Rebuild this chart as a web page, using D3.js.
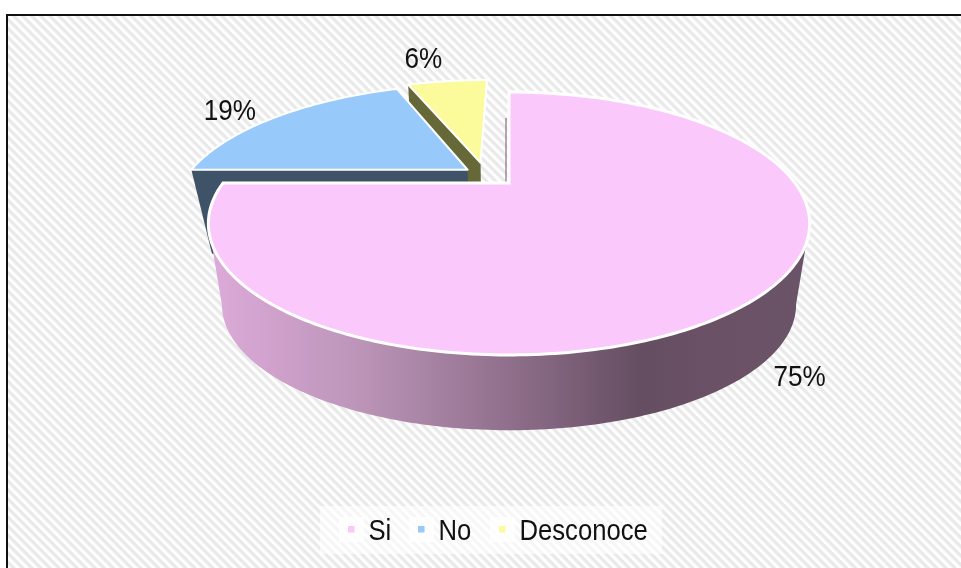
<!DOCTYPE html>
<html><head><meta charset="utf-8">
<script src="https://cdnjs.cloudflare.com/ajax/libs/d3/7.8.5/d3.min.js"></script>
<style>html,body{margin:0;padding:0;background:#fff}svg{display:block;filter:blur(0.45px)}
text{font-family:"Liberation Sans",Arial,sans-serif;fill:#111}</style></head>
<body><div id="chart"></div>
<script>
const categories = ["Si", "No", "Desconoce"];
const values = [75, 19, 6];
const topColors = ["#fbc8fb", "#97c9fb", "#fbfb9c"];
const wallColors = ["#8a6c88", "#3f5368", "#666838"];
const explodeU = [0, -0.15, -0.105];
const explodeV = [0, -0.115, -0.18];
const wallShrink = [0.955, 0.935, 0.955];
const labelOffsets = [[32, 95], [-48, 4], [-24, -13]];
const legendX = [348, 418, 499];

const W = 961, H = 568;
const svg = d3.select("#chart").append("svg").attr("width", W).attr("height", H);
const defs = svg.append("defs");
const P = 6.4;
const pat = defs.append("pattern").attr("id", "hatch").attr("width", P).attr("height", P)
  .attr("patternUnits", "userSpaceOnUse").attr("patternTransform", "rotate(45)");
pat.append("rect").attr("width", P).attr("height", P).attr("fill", "#fefefe");
pat.append("rect").attr("width", P).attr("height", P / 2).attr("fill", "#e9e9e9");
const wallGrad = defs.append("linearGradient").attr("id", "wall")
  .attr("gradientUnits", "userSpaceOnUse").attr("x1", 215).attr("x2", 805).attr("y1", 0).attr("y2", 0);
[[0, "#dcaad8"], [0.25, "#bb94b8"], [0.5, "#8f6f8b"], [0.72, "#654e62"], [0.85, "#6b5166"], [1, "#6a5368"]]
  .forEach(([o, c]) => wallGrad.append("stop").attr("offset", o).attr("stop-color", c));

svg.append("rect").attr("x", 8).attr("y", 16).attr("width", W).attr("height", H).attr("fill", "url(#hatch)");
svg.append("path").attr("d", `M7,${H}V15H${W}`).attr("fill", "none").attr("stroke", "#111").attr("stroke-width", 2);

// perspective projection of the pie plane
const cx = 509, cy = 183, B = 286, A = 119, k = -0.308, drop = 83;
const project = (u, v) => { const d = 1 + k * v; return [cx + B * u / d, cy + A * v / d]; };
const lower = (i) => ([x, y]) => [cx + (x - cx) * wallShrink[i], cy + (y - cy) * wallShrink[i] + drop];

const arcs = d3.pie().sort(null).startAngle(0).endAngle(2 * Math.PI)(values);
const slices = arcs.map((a, i) => {
  const mid = (a.startAngle + a.endAngle) / 2;
  const u0 = explodeU[i], v0 = explodeV[i];
  const n = Math.max(8, Math.round((a.endAngle - a.startAngle) * 60));
  const rim = d3.range(n + 1).map(j => {
    const t = a.startAngle + (a.endAngle - a.startAngle) * j / n;
    return project(u0 + Math.sin(t), v0 - Math.cos(t));
  });
  return { i, mid, apex: project(u0, v0), rim, u0, v0 };
});
const line = d3.line();
const topPath = s => line([s.apex].concat(s.rim)) + "Z";

// back slices first: cut face, then top
[2, 1].forEach(i => {
  const s = slices[i], low = lower(i);
  svg.append("path").attr("d", line([s.apex, s.rim[0], low(s.rim[0]), low(s.apex)]) + "Z").attr("fill", wallColors[i]);
  svg.append("path").attr("d", topPath(s)).attr("fill", topColors[i])
    .attr("stroke", "#fff").attr("stroke-width", 2).attr("stroke-linejoin", "round");
});

// large slice: thin visible cut face, outer wall of the front arc, top
const big = slices[0], lowBig = lower(0);
svg.append("path").attr("d", line([[cx - 3, cy - 65], [cx - 3, cy]])).attr("stroke", wallColors[0]).attr("stroke-width", 1.2).attr("fill", "none");
const iRight = d3.greatestIndex(big.rim, p => p[0]);
const iLeft = d3.leastIndex(big.rim, p => p[0]);
const front = big.rim.slice(iRight, iLeft + 1);
svg.append("path").attr("d", line(front.concat(front.map(lowBig).reverse())) + "Z").attr("fill", "url(#wall)");
svg.append("path").attr("d", topPath(big)).attr("fill", topColors[0])
  .attr("stroke", "#fff").attr("stroke-width", 3).attr("stroke-linejoin", "miter");

// text squeezed horizontally like the stretched original picture
const squeezed = (g, x, y, size, str, anchor) => g.append("text")
  .attr("transform", `translate(${x},${y}) scale(0.87,1)`)
  .attr("text-anchor", anchor).attr("font-size", size).text(str);

slices.forEach(s => {
  const m = project(s.u0 + Math.sin(s.mid), s.v0 - Math.cos(s.mid));
  squeezed(svg, m[0] + labelOffsets[s.i][0], m[1] + labelOffsets[s.i][1], 30, values[s.i] + "%", "middle");
});

// legend
const legend = svg.append("g");
legend.append("rect").attr("x", 320).attr("y", 506).attr("width", 342).attr("height", 48).attr("fill", "#fff").attr("opacity", 0.6);
categories.forEach((c, i) => {
  legend.append("rect").attr("x", legendX[i] - 9).attr("y", 517).attr("width", 25).attr("height", 25).attr("fill", "#fff").attr("opacity", 0.8);
  legend.append("rect").attr("x", legendX[i]).attr("y", 526).attr("width", 6.5).attr("height", 6.5).attr("fill", topColors[i]);
  squeezed(legend, legendX[i] + 20.5, 540, 29.5, c, "start");
});
</script></body></html>
